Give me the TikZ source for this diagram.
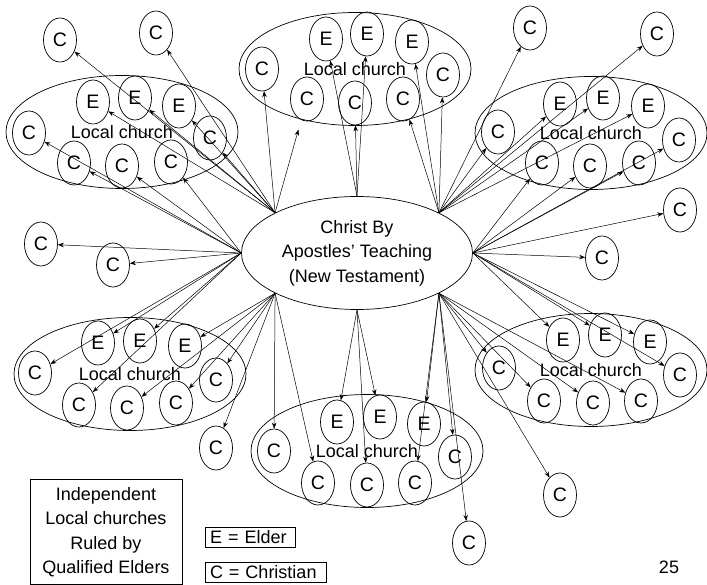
\documentclass[tikz,border=0pt]{standalone}
\usepackage{fontspec}
\setmainfont{Liberation Sans}
\usetikzlibrary{shapes.geometric,arrows.meta}
\begin{document}
\begin{tikzpicture}[x=1pt,y=-1pt,font=\fontsize{18}{24.5}\selectfont,
	hub/.style={draw,ellipse,line width=0.7pt,minimum width=231pt,minimum height=113pt,inner sep=0pt,align=center},
	church/.style={draw,ellipse,line width=0.7pt,minimum width=232pt,minimum height=113pt,inner sep=0pt},
	member/.style={draw,ellipse,line width=0.7pt,minimum width=33pt,minimum height=44pt,inner sep=0pt,font=\fontsize{19.5}{24}\selectfont},
	link/.style={-{Stealth[length=6pt,width=4.5pt]},line width=0.5pt},
	keybox/.style={draw,line width=0.7pt,inner xsep=5pt,inner ysep=0pt,minimum height=20pt,align=left}]
	\useasboundingbox (0,0) rectangle (707,585);
	\node [hub] (hub) at (357,253) {Christ By\\Apostles' Teaching\\(New Testament)};
	\node [church] (tl) at (122,132) {Local church};
	\node [member] (tlX1) at (60,40) {C};
	\node [member] (tlX2) at (156,33) {C};
	\node [member] (tlE1) at (93,102) {E};
	\node [member] (tlE2) at (135,98) {E};
	\node [member] (tlE3) at (179,106) {E};
	\node [member] (tlC1) at (29,133) {C};
	\node [member] (tlC2) at (74,163) {C};
	\node [member] (tlC3) at (122,166) {C};
	\node [member] (tlC4) at (171,162) {C};
	\node [member] (tlC5) at (210,138) {C};
	\node [church] (t) at (355,69) {Local church};
	\node [member] (tC1) at (262,69) {C};
	\node [member] (tE1) at (326,39) {E};
	\node [member] (tE2) at (367,34) {E};
	\node [member] (tE3) at (412,42) {E};
	\node [member] (tC5) at (443,75) {C};
	\node [member] (tC2) at (307,99) {C};
	\node [member] (tC3) at (355,103) {C};
	\node [member] (tC4) at (403,99) {C};
	\node [church] (tr) at (591,133) {Local church};
	\node [member] (trX1) at (530,28) {C};
	\node [member] (trX2) at (657,34) {C};
	\node [member] (trC1) at (498,132) {C};
	\node [member] (trE1) at (560,104) {E};
	\node [member] (trE2) at (603,98) {E};
	\node [member] (trE3) at (648,106) {E};
	\node [member] (trC5) at (679,140) {C};
	\node [member] (trC2) at (542,163) {C};
	\node [member] (trC3) at (590,166) {C};
	\node [member] (trC4) at (639,163) {C};
	\node [member] (lX1) at (41,244) {C};
	\node [member] (lX2) at (113,265) {C};
	\node [member] (rX1) at (680,210) {C};
	\node [member] (rX2) at (602,258) {C};
	\node [church] (bl) at (130,374) {Local church};
	\node [member] (blC1) at (35,373) {C};
	\node [member] (blE1) at (98,343) {E};
	\node [member] (blE2) at (140,341) {E};
	\node [member] (blE3) at (185,346) {E};
	\node [member] (blC5) at (216,380) {C};
	\node [member] (blC2) at (79,405) {C};
	\node [member] (blC3) at (127,408) {C};
	\node [member] (blC4) at (176,403) {C};
	\node [member] (blX1) at (216,448) {C};
	\node [church] (b) at (367,451) {Local church};
	\node [member] (bC1) at (274,451) {C};
	\node [member] (bE1) at (337,422) {E};
	\node [member] (bE2) at (380,417) {E};
	\node [member] (bE3) at (424,424) {E};
	\node [member] (bC5) at (455,457) {C};
	\node [member] (bC2) at (318,483) {C};
	\node [member] (bC3) at (367,485) {C};
	\node [member] (bC4) at (415,483) {C};
	\node [member] (bX1) at (469,543) {C};
	\node [member] (bX2) at (560,495) {C};
	\node [church] (br) at (591,370) {Local church};
	\node [member] (brC1) at (499,368) {C};
	\node [member] (brE1) at (563,340) {E};
	\node [member] (brE2) at (605,335) {E};
	\node [member] (brE3) at (650,342) {E};
	\node [member] (brC5) at (680,375) {C};
	\node [member] (brC2) at (544,401) {C};
	\node [member] (brC3) at (593,403) {C};
	\node [member] (brC4) at (641,401) {C};
	\node [draw,line width=0.7pt,minimum width=152pt,minimum height=105pt,align=center] (note) at (106,532) {Independent\\Local churches\\Ruled by\\Qualified Elders};
	\node [keybox,text width=80pt] (keyE) at (250,537) {E = Elder};
	\node [keybox,text width=111pt] (keyC) at (265.5,572) {C = Christian};
	\node (page) at (669,567) {25};
	\draw [link] (hub.north west) -- (tlX1);
	\draw [link] (hub.north west) -- (tlX2);
	\draw [link] (hub.north west) -- (tlE1);
	\draw [link] (hub.north west) -- (tlE2);
	\draw [link] (hub.north west) -- (tlE3);
	\draw [link] (hub.north west) -- (tlC5);
	\draw [link] (hub.west) -- (tlC1);
	\draw [link] (hub.west) -- (tlC2);
	\draw [link] (hub.west) -- (tlC3);
	\draw [link] (hub.west) -- (tlC4);
	\draw [link] (hub.north west) -- (tC1);
	\draw [link,shorten >=10pt] (hub.north west) -- (tC2);
	\draw [link] (hub.north) -- (tE1);
	\draw [link] (hub.north) -- (tE2);
	\draw [link] (hub.north) -- (tC3);
	\draw [link] (hub.north east) -- (tE3);
	\draw [link] (hub.north east) -- (tC4);
	\draw [link] (hub.north east) -- (tC5);
	\draw [link] (hub.north east) -- (trX1);
	\draw [link] (hub.north east) -- (trX2);
	\draw [link] (hub.north east) -- (trC1);
	\draw [link] (hub.north east) -- (trE1);
	\draw [link] (hub.north east) -- (trE2);
	\draw [link] (hub.north east) -- (trE3);
	\draw [link] (hub.east) -- (trC2);
	\draw [link] (hub.east) -- (trC3);
	\draw [link] (hub.east) -- (trC4);
	\draw [link] (hub.east) -- (trC5);
	\draw [link] (hub.west) -- (lX1);
	\draw [link] (hub.west) -- (lX2);
	\draw [link] (hub.east) -- (rX1);
	\draw [link] (hub.east) -- (rX2);
	\draw [link] (hub.west) -- (blC1);
	\draw [link] (hub.west) -- (blE1);
	\draw [link] (hub.west) -- (blE2);
	\draw [link] (hub.west) -- (blC2);
	\draw [link] (hub.south west) -- (blE3);
	\draw [link] (hub.south west) -- (blC5);
	\draw [link] (hub.south west) -- (blC3);
	\draw [link] (hub.south west) -- (blC4);
	\draw [link] (hub.south west) -- (blX1);
	\draw [link] (hub.south west) -- (bC1);
	\draw [link] (hub.south west) -- (bC2);
	\draw [link] (hub.south) -- (bE1);
	\draw [link] (hub.south) -- (bE2);
	\draw [link] (hub.south) -- (bC3);
	\draw [link] (hub.south east) -- (bE3);
	\draw [link] (hub.south east) -- (bC4);
	\draw [link] (hub.south east) -- (bC5);
	\draw [link] (hub.south east) -- (bX1);
	\draw [link] (hub.south east) -- (bX2);
	\draw [link] (hub.east) -- (brE1);
	\draw [link] (hub.east) -- (brE2);
	\draw [link] (hub.east) -- (brE3);
	\draw [link] (hub.east) -- (brC5);
	\draw [link] (hub.south east) -- (brC1);
	\draw [link] (hub.south east) -- (brC2);
	\draw [link] (hub.south east) -- (brC3);
	\draw [link] (hub.south east) -- (brC4);
\end{tikzpicture}
\end{document}
